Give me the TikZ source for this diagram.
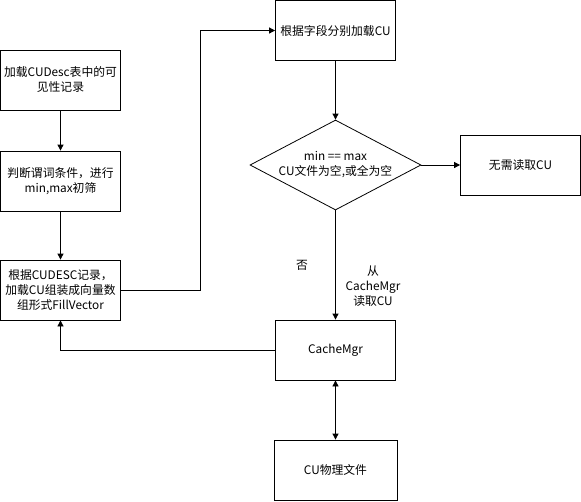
\documentclass[tikz,border=0pt]{standalone}
\usepackage{fontspec}
\setmainfont{Noto Sans CJK SC}
\usetikzlibrary{shapes.geometric,arrows.meta}
\begin{document}
\begin{tikzpicture}[x=1pt,y=-1pt,
  box/.style={draw,line width=0.8pt,minimum width=120pt,minimum height=60pt,inner sep=1pt,align=center,font=\fontsize{11.8}{15}\selectfont},
  arr/.style={draw,line width=0.8pt,-{Triangle[length=6pt,width=6pt]}},
  lbl/.style={align=center,font=\fontsize{11.8}{15}\selectfont}]
\useasboundingbox (0,0) rectangle (581,501);
\node[box] (b1) at (60.5,80) {加载CUDesc表中的可\\见性记录};
\node[box] (b2) at (60.5,181) {判断谓词条件，进行\\min,max初筛};
\node[box] (b3) at (60.5,290) {根据CUDESC记录，\\加载CU组装成向量数\\组形式FillVector};
\node[box] (top) at (335.5,30.5) {根据字段分别加载CU};
\node[draw,line width=0.8pt,diamond,aspect=1.9,minimum width=171pt,minimum height=90pt,inner sep=0pt,align=center,font=\fontsize{11.8}{15}\selectfont] (dia) at (335.5,165) {min == max\\CU文件为空,或全为空};
\node[box] (no) at (520.5,165) {无需读取CU};
\node[box] (cm) at (335.5,350) {CacheMgr};
\node[box,minimum width=123pt] (pf) at (335.5,470) {CU物理文件};
\coordinate (c1) at (200,290);
\coordinate (c2) at (200,30.5);
\coordinate (c3) at (60.5,350);
\draw[arr] (b1) -- (b2);
\draw[arr] (b2) -- (b3);
\draw[arr] (b3.east) -- (c1) -- (c2) -- (top.west);
\draw[arr] (top) -- (dia);
\draw[arr] (dia.east) -- (no.west);
\draw[arr] (dia.south) -- (cm.north);
\draw[arr] (cm.west) -- (c3) -- (b3.south);
\draw[arr,{Triangle[length=6pt,width=6pt]}-{Triangle[length=6pt,width=6pt]}] (cm) -- (pf);
\node[lbl] (l1) at (302,265) {否};
\node[lbl] (l2) at (373,286) {从\\CacheMgr\\读取CU};
\end{tikzpicture}
\end{document}
